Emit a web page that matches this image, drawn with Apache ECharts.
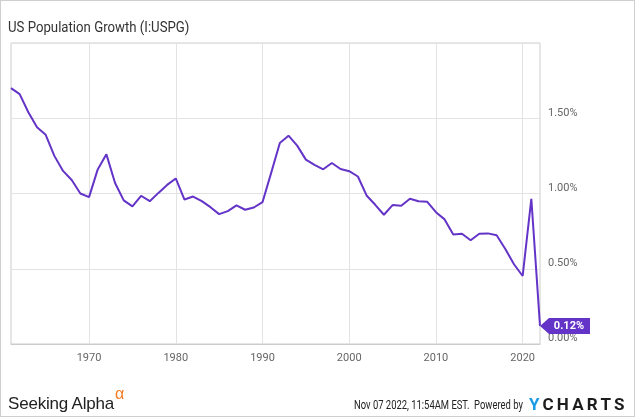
<!DOCTYPE html>
<html>
<head>
<meta charset="utf-8">
<script src="https://cdn.jsdelivr.net/npm/echarts@6/dist/echarts.min.js"></script>
<style>
  html, body { margin: 0; padding: 0; background: #fff; }
  #wrap { position: relative; width: 635px; height: 417px; box-sizing: border-box; border: 1px solid #cfcfcf; overflow: hidden; }
  #chart { position: absolute; left: -1px; top: -1px; width: 635px; height: 417px; }
  .foot { position: absolute; white-space: nowrap; }
  #title { left: 7px; top: 17px; font: 15px Roboto, sans-serif; color: #333; transform: scaleX(0.88); transform-origin: 0 0; }
  #sa { left: 7px; top: 387px; font: 17px 'Liberation Sans', Arial, sans-serif; color: #222; letter-spacing: -0.2px; }
  #sa sup { color: #f47b20; font-size: 16px; position: relative; top: -3px; margin-left: 1px; }
  #stamp { left: 353px; top: 397px; font: 12px Roboto, sans-serif; color: #222; transform: scaleX(0.785); transform-origin: 0 0; }
  #yc { left: 528px; top: 393px; font: bold 17px Roboto, sans-serif; color: #1c1c1c; letter-spacing: 3.2px; }
  #yc span { color: #1a9be6; }
</style>
</head>
<body>
<div id="wrap">
  <div id="chart"></div>
  <div class="foot" id="title"></div>
  <div class="foot" id="sa">Seeking Alpha<sup>α</sup></div>
  <div class="foot" id="stamp">Nov 07 2022, 11:54AM EST.&nbsp;&nbsp;Powered by</div>
  <div class="foot" id="yc"><span>Y</span>CHARTS</div>
</div>
<script>
const titleText = 'US Population Growth (I:USPG)';
const years = [];
for (let y = 1961; y <= 2022; y++) years.push(String(y));
const growth = [
  1.70, 1.66, 1.54, 1.44, 1.39, 1.25, 1.15, 1.09, 1.00, 0.976,
  1.16, 1.26, 1.07, 0.954, 0.914, 0.985, 0.949, 1.004, 1.057, 1.10,
  0.960, 0.980, 0.949, 0.909, 0.863, 0.883, 0.921, 0.892, 0.907, 0.942,
  1.137, 1.336, 1.384, 1.318, 1.225, 1.19, 1.161, 1.203, 1.163, 1.148,
  1.113, 0.987, 0.925, 0.859, 0.923, 0.918, 0.965, 0.949, 0.945, 0.876,
  0.828, 0.728, 0.733, 0.689, 0.733, 0.735, 0.722, 0.631, 0.530, 0.452,
  0.965, 0.12
];
const yTicks = [0, 0.5, 1.0, 1.5, 2.0];

document.getElementById('title').textContent = titleText;

const chart = echarts.init(document.getElementById('chart'), null, { renderer: 'canvas' });
const lineColor = '#6434c8';
const decade = (i, v) => Number(v) % 10 === 0;
const lastIdx = growth.length - 1;

chart.setOption({
  animation: false,
  backgroundColor: 'transparent',
  grid: {
    left: 11, right: 95, top: 43, bottom: 73,
    show: true, borderColor: '#cccccc', borderWidth: 1
  },
  xAxis: {
    type: 'category',
    data: years,
    boundaryGap: false,
    axisLine: { show: true, lineStyle: { color: '#cccccc' } },
    axisTick: { show: false },
    axisLabel: { interval: decade, color: '#666', fontFamily: 'Roboto', fontSize: 11, margin: 9 },
    splitLine: { show: true, interval: decade, lineStyle: { color: '#e3e3e3' } }
  },
  yAxis: {
    type: 'value',
    position: 'right',
    min: yTicks[0], max: yTicks[yTicks.length - 1], interval: 0.5,
    axisLine: { show: false },
    axisTick: { show: false },
    axisLabel: {
      showMaxLabel: false,
      formatter: v => v.toFixed(2) + '%',
      color: '#666', fontFamily: 'Roboto', fontSize: 11, margin: 8,
      verticalAlign: 'bottom'
    },
    splitLine: { lineStyle: { color: '#e3e3e3' } }
  },
  series: [{
    type: 'line',
    data: growth,
    symbol: 'none',
    lineStyle: { color: lineColor, width: 2 },
    markPoint: {
      symbol: 'path://M0,8 L9,0 L50,0 L50,16 L9,16 Z',
      symbolSize: [50, 16],
      symbolKeepAspect: false,
      symbolOffset: [25, 0],
      itemStyle: { color: lineColor },
      label: {
        show: true, position: 'inside', offset: [4, 0],
        color: '#fff', fontFamily: 'Roboto', fontWeight: 'bold', fontSize: 11,
        formatter: p => p.value.toFixed(2) + '%'
      },
      data: [{ coord: [years[lastIdx], growth[lastIdx]], value: growth[lastIdx] }]
    }
  }]
});
</script>
</body>
</html>
